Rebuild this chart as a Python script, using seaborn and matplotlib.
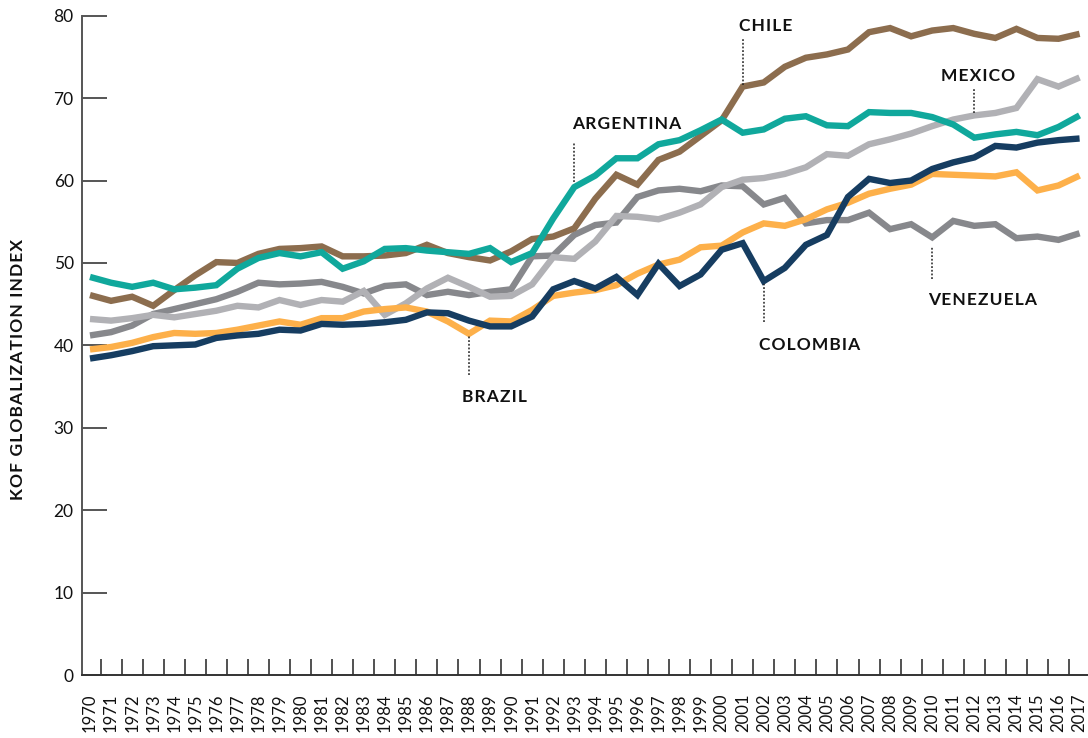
import numpy as np
import pandas as pd
import matplotlib
matplotlib.use("Agg")
import matplotlib.pyplot as plt
import seaborn as sns

# KOF globalization index, Latin America 1970-2017
years = list(range(1970, 2018))

argentina = [48.3, 47.6, 47.1, 47.6, 46.8, 47.0, 47.3, 49.3, 50.6, 51.2,
             50.8, 51.3, 49.3, 50.2, 51.7, 51.8, 51.5, 51.3, 51.1, 51.8,
             50.1, 51.2, 55.4, 59.2, 60.6, 62.7, 62.7, 64.4, 64.9, 66.1,
             67.4, 65.8, 66.2, 67.5, 67.8, 66.7, 66.6, 68.3, 68.2, 68.2,
             67.7, 66.8, 65.2, 65.6, 65.9, 65.5, 66.5, 67.9]
chile = [46.1, 45.4, 45.9, 44.8, 46.7, 48.5, 50.1, 50.0, 51.1, 51.7,
         51.8, 52.0, 50.8, 50.8, 50.9, 51.2, 52.2, 51.2, 50.7, 50.3,
         51.4, 52.9, 53.2, 54.2, 57.8, 60.7, 59.5, 62.5, 63.5, 65.4,
         67.3, 71.4, 71.9, 73.8, 74.9, 75.3, 75.9, 78.0, 78.5, 77.5,
         78.2, 78.5, 77.8, 77.3, 78.4, 77.3, 77.2, 77.8]
mexico = [43.2, 43.0, 43.3, 43.7, 43.4, 43.8, 44.2, 44.8, 44.6, 45.5,
          44.9, 45.5, 45.3, 46.6, 43.7, 45.1, 46.9, 48.2, 47.1, 45.9,
          46.0, 47.4, 50.7, 50.5, 52.6, 55.7, 55.6, 55.3, 56.1, 57.1,
          59.2, 60.1, 60.3, 60.8, 61.6, 63.2, 63.0, 64.4, 65.0, 65.7,
          66.6, 67.4, 67.9, 68.2, 68.8, 72.3, 71.4, 72.5]
venezuela = [41.2, 41.6, 42.4, 43.8, 44.4, 45.0, 45.6, 46.5, 47.6, 47.4,
             47.5, 47.7, 47.1, 46.3, 47.2, 47.4, 46.1, 46.5, 46.1, 46.5,
             46.8, 50.8, 50.9, 53.4, 54.6, 54.9, 58.0, 58.8, 59.0, 58.7,
             59.4, 59.3, 57.1, 57.9, 54.8, 55.2, 55.2, 56.1, 54.1, 54.7,
             53.1, 55.1, 54.5, 54.7, 53.0, 53.2, 52.8, 53.6]
brazil = [39.5, 39.8, 40.3, 41.0, 41.5, 41.4, 41.5, 41.9, 42.4, 42.9,
          42.5, 43.3, 43.3, 44.1, 44.4, 44.6, 44.1, 42.9, 41.4, 43.0,
          42.9, 44.3, 46.0, 46.4, 46.7, 47.3, 48.7, 49.8, 50.4, 51.9,
          52.1, 53.7, 54.8, 54.5, 55.3, 56.5, 57.3, 58.4, 59.0, 59.5,
          60.8, 60.7, 60.6, 60.5, 61.0, 58.8, 59.4, 60.6]
colombia = [38.4, 38.8, 39.3, 39.9, 40.0, 40.1, 40.9, 41.2, 41.4, 41.9,
            41.8, 42.6, 42.5, 42.6, 42.8, 43.1, 44.0, 43.9, 43.0, 42.3,
            42.3, 43.5, 46.8, 47.8, 46.9, 48.3, 46.1, 49.9, 47.2, 48.6,
            51.6, 52.4, 47.8, 49.4, 52.2, 53.4, 58.0, 60.2, 59.7, 60.0,
            61.4, 62.2, 62.8, 64.2, 64.0, 64.6, 64.9, 65.1]

countries = ["Venezuela", "Mexico", "Chile", "Brazil", "Colombia", "Argentina"]
colors = ["#87888c", "#b1b1b5", "#8c6d4e", "#fdb04a", "#163d61", "#10a89c"]

# label text, label position (year, value), leader line (year, from, to)
labels = {
    "CHILE":     ((2002.1, 78.8), (2001, 71.6, 77.3)),
    "ARGENTINA": ((1995.5, 66.8), (1993, 59.8, 64.6)),
    "MEXICO":    ((2012.2, 72.7), (2012, 68.2, 71.2)),
    "VENEZUELA": ((2012.4, 45.5), (2010, 48.1, 52.1)),
    "COLOMBIA":  ((2004.2, 40.1), (2002, 42.8, 47.5)),
    "BRAZIL":    ((1989.2, 33.7), (1988, 36.4, 41.1)),
}

series = {"Argentina": argentina, "Chile": chile, "Mexico": mexico,
          "Venezuela": venezuela, "Brazil": brazil, "Colombia": colombia}
df = pd.concat([pd.DataFrame({"year": years, "index": v, "country": k})
                for k, v in series.items()], ignore_index=True)
df["pos"] = df["year"] - years[0]

sns.set_style("white")
plt.rcParams["font.family"] = ["Lato", "DejaVu Sans"]

fig = plt.figure(figsize=(10.88, 7.38), dpi=100)
ax = fig.add_axes([82 / 1088, 63 / 738, 1006 / 1088, 659.3 / 738])

sns.lineplot(data=df, x="pos", y="index", hue="country", hue_order=countries,
             palette=colors, linewidth=4.6, legend=False, ax=ax,
             solid_joinstyle="miter", solid_capstyle="butt")

ax.set_xlim(-0.38, 47.4)
ax.set_ylim(0, 80)

# y axis
ax.set_yticks(range(0, 81, 10))
ax.tick_params(axis="y", left=True, direction="in", length=18, width=1.4,
               color="#555555", labelsize=12.5, pad=6, labelcolor="#111111")
ax.set_ylabel("")

# x axis: labels at the years, tick marks between them
ax.set_xticks(range(len(years)))
ax.set_xticklabels([str(y) for y in years], rotation=90, fontsize=12)
ax.set_xticks(np.arange(0.5, len(years) - 0.5, 1), minor=True)
ax.tick_params(axis="x", which="major", bottom=True, length=0, pad=13,
               labelcolor="#111111")
ax.tick_params(axis="x", which="minor", bottom=True, direction="in",
               length=11.5, width=1.2, color="#333333")
ax.set_xlabel("")

for s in ["top", "right"]:
    ax.spines[s].set_visible(False)
ax.spines["left"].set_color("#555555")
ax.spines["left"].set_linewidth(1.4)
ax.spines["bottom"].set_color("#333333")
ax.spines["bottom"].set_linewidth(1.4)

hair = "\u200a"
for name, ((lx, ly), (dx, y0, y1)) in labels.items():
    ax.text(lx - years[0], ly, hair.join(name), ha="center", va="center",
            fontsize=12.5, fontweight="bold", color="#111111",
            family=["Lato", "DejaVu Sans"])
    ax.plot([dx - years[0]] * 2, [y0, y1], color="#222222", linewidth=1.1,
            linestyle=(0, (1.2, 1.2)))

fig.text(18 / 1088, (738 - 370) / 738, hair.join("KOF GLOBALIZATION INDEX"),
         rotation=90, ha="center", va="center", fontsize=12.5,
         fontweight="bold", color="#111111", family=["Lato", "DejaVu Sans"])

fig.savefig("out.png", dpi=100)
